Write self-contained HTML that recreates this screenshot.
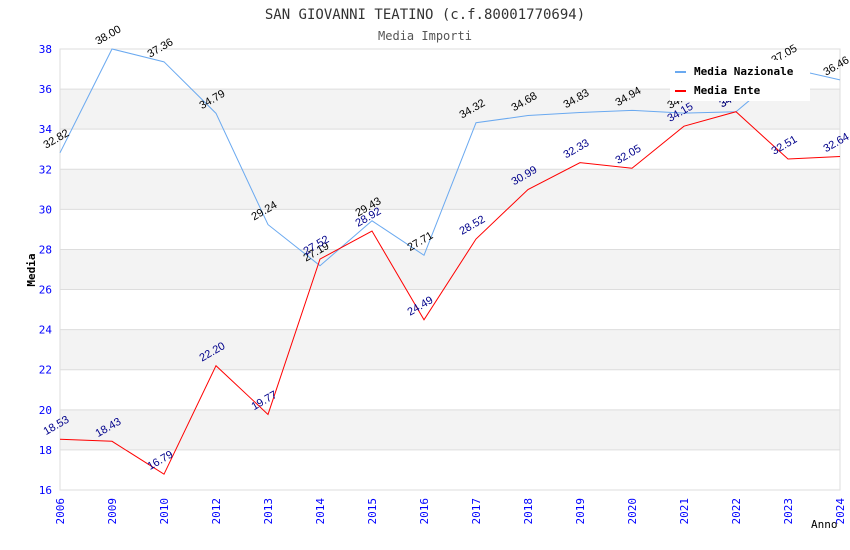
<!DOCTYPE html>
<html><head><meta charset="utf-8"><style>
body{margin:0;background:#fff;}
svg{display:block;font-family:"DejaVu Sans Mono","Liberation Mono",monospace;}
</style></head><body>
<svg id="chart" width="850" height="550">
<text x="425" y="19" text-anchor="middle" font-size="14" fill="#333">SAN GIOVANNI TEATINO (c.f.80001770694)</text>
<text x="425" y="40" text-anchor="middle" font-size="12" fill="#555">Media Importi</text>
<g id="grid"></g><g id="axes"></g><g id="series"></g>
<text x="35" y="270" font-size="11" font-weight="bold" fill="#000" transform="rotate(-90 35 270)" text-anchor="middle">Media</text>
<text x="811" y="528" font-size="11" fill="#000">Anno</text>
<g>
<rect x="670" y="60" width="140" height="41" fill="#fff"/>
<line x1="675" y1="72" x2="686" y2="72" stroke="#6aa9f0" stroke-width="2"/>
<text x="694" y="75" font-size="11" font-weight="bold">Media Nazionale</text>
<line x1="675" y1="91" x2="686" y2="91" stroke="#f00" stroke-width="2"/>
<text x="694" y="94" font-size="11" font-weight="bold">Media Ente</text>
</g>
</svg>
<script>
const categories=["2006","2009","2010","2012","2013","2014","2015","2016","2017","2018","2019","2020","2021","2022","2023","2024"];
const nazionale=[32.82,38.00,37.36,34.79,29.24,27.19,29.43,27.71,34.32,34.68,34.83,34.94,34.80,34.87,37.05,36.46];
const ente=[18.53,18.43,16.79,22.20,19.77,27.52,28.92,24.49,28.52,30.99,32.33,32.05,34.15,34.87,32.51,32.64];
const yTicks=[16,18,20,22,24,26,28,30,32,34,36,38];
const NS="http://www.w3.org/2000/svg";
const X0=60,X1=840,Y0=490,Y1=49,YMIN=16,YMAX=38;
const xs=i=>X0+i*(X1-X0)/(categories.length-1);
const ys=v=>Y0-(v-YMIN)*(Y0-Y1)/(YMAX-YMIN);
function mk(t,a,p){const e=document.createElementNS(NS,t);for(const k in a)e.setAttribute(k,a[k]);p.appendChild(e);return e;}
const grid=document.getElementById('grid'),axes=document.getElementById('axes'),ser=document.getElementById('series');
for(let i=0;i<yTicks.length-1;i++){
 if(i%2==1){const r=mk('rect',{x:X0,y:ys(yTicks[i+1]),width:X1-X0,height:ys(yTicks[i])-ys(yTicks[i+1]),fill:'#f3f3f3'},grid);
 
 }
}
yTicks.forEach(v=>{
 const l=mk('line',{x1:X0,x2:X1,y1:ys(v),y2:ys(v),stroke:'#ddd'},grid);
 
 
 const t=mk('text',{x:X0-8,y:ys(v)+4,'text-anchor':'end','font-size':11,fill:'#00f'},axes);t.textContent=v;
 
 
});
mk('rect',{x:X0,y:Y1,width:X1-X0,height:Y0-Y1,fill:'none',stroke:'#ddd'},grid);
categories.forEach((c,i)=>{
 const t=mk('text',{x:xs(i)+4,y:Y0+8,'text-anchor':'end','font-size':11,fill:'#00f',transform:`rotate(-90 ${xs(i)+4} ${Y0+8})`},axes);t.textContent=c;
 
 
});
function series(vals,color,lc,name){
 const p=mk('polyline',{points:vals.map((v,i)=>xs(i)+','+ys(v)).join(' '),fill:'none',stroke:color,'stroke-width':1},ser);
 
 
 vals.forEach((v,i)=>{
  const x=xs(i)-14,y=ys(v)-4;
  const t=mk('text',{x:x,y:y,'font-size':11,fill:lc,'font-family':'Liberation Sans, sans-serif',transform:`rotate(-30 ${x} ${y})`},ser);
  t.textContent=v.toFixed(2);
  
  
 });
}
series(nazionale,'#6aa9f0','#000','nazionale');
series(ente,'#f00','#00008b','ente');
</script>
</body></html>
